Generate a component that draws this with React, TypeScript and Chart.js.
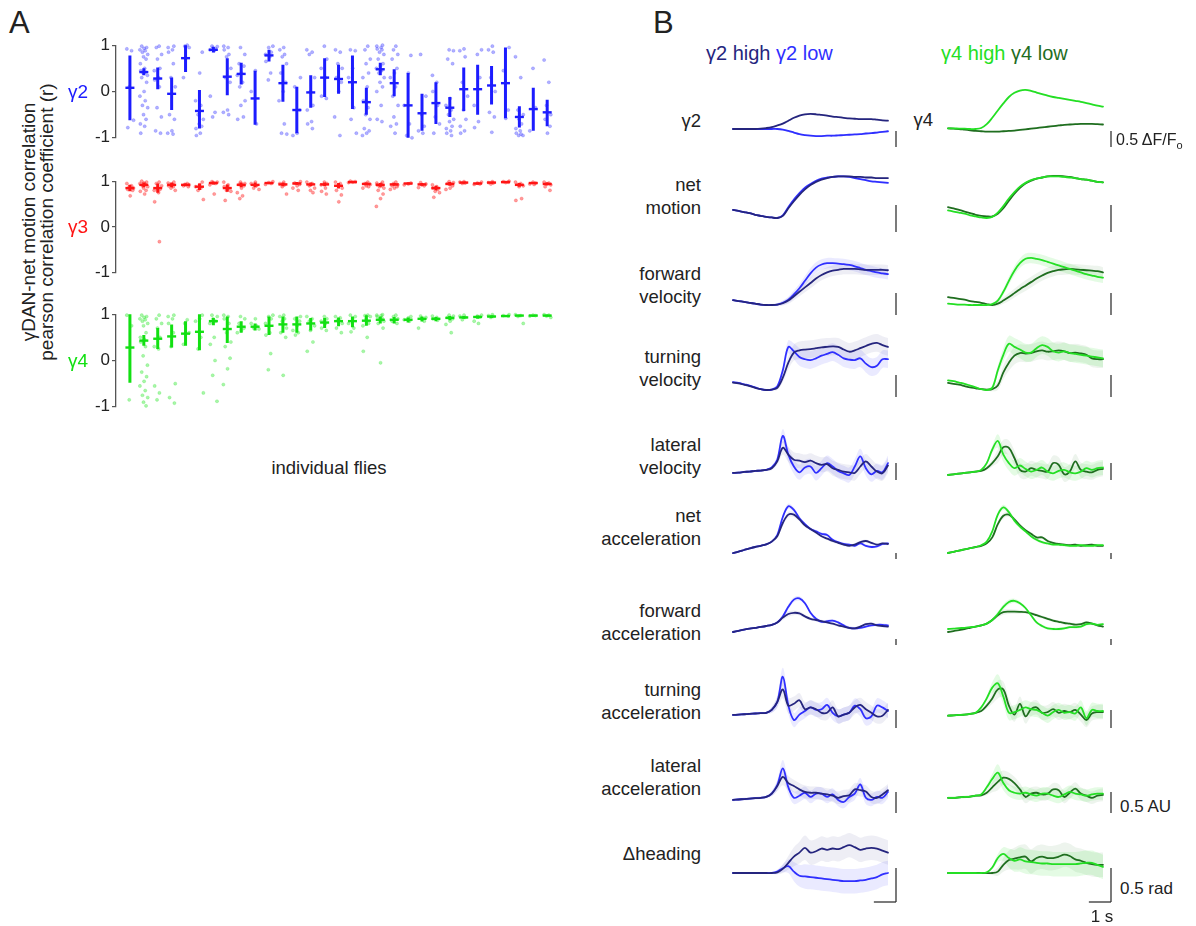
import React, { useEffect, useRef } from "react";
import { Chart, registerables } from "chart.js";

Chart.register(...registerables);

const FONT = '"Liberation Sans", Arial, Helvetica, sans-serif';

// ---------------- Panel A data (per-fly correlation coefficients) ----------------
const flyIds = [1, 2, 3, 4, 5, 6, 7, 8, 9, 10, 11, 12, 13, 14, 15, 16, 17, 18, 19, 20, 21, 22, 23, 24, 25, 26, 27, 28, 29, 30, 31];
const yTicksA = [-1, 0, 1];

const g2Points = [
  [0.92, 0.88, 0.1, -0.62, -0.78],
  [0.98, 0.95, 0.93, 0.9, 0.88, 0.85, 0.8, 0.75, 0.7, 0.6, 0.5, 0.45, 0.42, 0.4, 0.35, 0.3, 0.2, 0.0, -0.1, -0.2, -0.3, -0.35, -0.5, -0.6, -0.7, -0.75, -0.9],
  [0.98, 0.95, 0.8, 0.7, 0.5, 0.45, 0.3, 0.25, 0.1, -0.35, -0.55, -0.85, -0.9],
  [0.98, 0.95, 0.9, 0.85, 0.6, 0.3, 0.1, -0.5, -0.6, -0.85, -0.9, -0.92],
  [1.0, 0.98, 0.95, 0.3],
  [0.85, 0.4, -0.2, -0.3, -0.5, -0.6, -0.7, -0.75, -0.8, -0.9, -0.95],
  [0.98, 0.97, 0.95, 0.92, 0.9, 0.88, -0.1, -0.45, -0.55],
  [0.98, 0.95, 0.9, 0.8, 0.75, 0.5, 0.3, 0.2, -0.4, -0.45, -0.5],
  [0.95, 0.8, 0.6, 0.55, 0.4, 0.35, 0.2, 0.1, -0.2, -0.3, -0.55, -0.6],
  [0.45, 0.0, -0.7],
  [0.98, 0.95, 0.85, 0.8, 0.75, 0.65, 0.4, 0.25],
  [0.95, 0.9, 0.8, 0.75, 0.6, 0.4, 0.2, 0.0, -0.2, -0.7, -0.9, -0.92],
  [0.3, 0.1, -0.4, -0.9, -0.95],
  [0.9, 0.85, 0.8, 0.3, 0.0, -0.3, -0.4, -0.65, -0.7, -0.8],
  [0.98, 0.7, 0.5, 0.3, -0.1, -0.15],
  [0.9, 0.85, 0.6, 0.5, 0.3, 0.2, 0.0, -0.55, -0.95],
  [0.9, 0.88, 0.5, 0.3, -0.35, -0.6, -0.9],
  [0.98, 0.9, 0.7, 0.6, 0.4, 0.3, 0.1, -0.2, -0.35, -0.5, -0.6, -0.8, -0.85, -0.9, -0.95],
  [1.0, 0.98, 0.95, 0.92, 0.9, 0.85, 0.8, 0.7, 0.6, 0.55, 0.5, 0.45, 0.4, 0.3, 0.2, 0.1, 0.0, -0.3, -0.6, -0.65],
  [0.98, 0.9, 0.8, 0.7, 0.5, 0.4, 0.3, 0.1, -0.1, -0.3, -0.55, -0.7, -0.75, -0.9],
  [0.78, 0.4, -0.3, -0.7, -0.95, -1.0],
  [0.8, -0.1, -0.5, -0.75, -0.85, -0.9],
  [0.35, 0.2, 0.0, -0.3, -0.55, -0.7, -0.9],
  [0.9, 0.88, 0.7, 0.6, -0.15, -0.3, -0.4, -0.5, -0.6, -0.65, -0.75, -0.8, -0.85, -0.9, -0.95],
  [0.92, 0.88, 0.75, 0.2, -0.1, -0.4, -0.6, -0.75, -0.85, -0.9],
  [0.9, 0.8, 0.3, -0.3, -0.65, -0.78],
  [0.98, 0.9, 0.85, 0.3, 0.0, -0.45, -0.55, -0.88],
  [0.95, 0.45, -0.4, -0.58],
  [0.75, 0.3, -0.4, -0.5, -0.6, -0.7, -0.8, -0.85, -0.9, -0.92, -0.95, -0.95],
  [0.5, -0.35, -0.85],
  [0.68, 0.2, -0.3, -0.5, -0.6, -0.75, -0.9],
];
const g2Mean = [0.08, 0.42, 0.28, -0.05, 0.72, -0.42, 0.9, 0.32, 0.38, -0.15, 0.78, 0.18, -0.4, -0.02, 0.3, 0.27, 0.2, -0.23, 0.48, 0.18, -0.3, -0.47, -0.25, -0.35, 0.05, 0.05, 0.13, 0.18, -0.55, -0.38, -0.45];
const g2Hi = [0.78, 0.5, 0.52, 0.3, 1.0, 0.03, 0.96, 0.72, 0.62, 0.45, 0.9, 0.58, 0.1, 0.35, 0.72, 0.58, 0.78, 0.08, 0.62, 0.48, 0.4, -0.05, 0.2, -0.12, 0.52, 0.58, 0.55, 0.95, -0.32, 0.08, -0.18];
const g2Lo = [-0.62, 0.35, 0.05, -0.4, 0.42, -0.8, 0.84, -0.08, 0.15, -0.72, 0.65, -0.22, -0.9, -0.35, -0.12, -0.05, -0.38, -0.5, 0.35, -0.1, -1.0, -0.85, -0.7, -0.55, -0.42, -0.5, -0.28, -0.58, -0.78, -0.85, -0.75];

const g3Points = [
  [0.95, 0.9, 0.88, 0.85, 0.82, 0.8, 0.68],
  [1.0, 0.98, 0.96, 0.95, 0.93, 0.9, 0.88, 0.85, 0.8, 0.78, 0.72],
  [0.98, 0.95, 0.9, 0.85, 0.82, 0.8, 0.75, 0.55, -0.32],
  [0.98, 0.96, 0.93, 0.9, 0.88, 0.85, 0.8],
  [0.95, 0.93, 0.92, 0.9, 0.88],
  [0.98, 0.92, 0.88, 0.85, 0.8, 0.6],
  [0.99, 0.98, 0.97, 0.95, 0.92, 0.72],
  [0.98, 0.92, 0.88, 0.85, 0.8, 0.78, 0.58],
  [0.98, 0.95, 0.93, 0.9, 0.85, 0.75, 0.68, 0.62],
  [0.98, 0.95, 0.9, 0.85, 0.82],
  [0.99, 0.97, 0.95, 0.93],
  [0.98, 0.95, 0.92, 0.88, 0.72],
  [0.99, 0.96, 0.93, 0.9, 0.85, 0.8],
  [0.98, 0.95, 0.9, 0.85, 0.8, 0.75],
  [0.98, 0.95, 0.92, 0.85, 0.78, 0.72],
  [0.98, 0.95, 0.9, 0.85, 0.8, 0.7, 0.55],
  [1.0, 0.99, 0.98, 0.97],
  [0.98, 0.95, 0.93, 0.9, 0.88, 0.85],
  [0.98, 0.96, 0.94, 0.92, 0.9, 0.88, 0.85, 0.8, 0.72, 0.62, 0.45],
  [0.98, 0.95, 0.92, 0.9, 0.88, 0.85, 0.82],
  [0.96, 0.94, 0.92],
  [0.97, 0.94, 0.92, 0.9, 0.86],
  [0.92, 0.88, 0.85, 0.82, 0.78, 0.75, 0.65],
  [0.99, 0.97, 0.95, 0.9, 0.85, 0.82],
  [0.99, 0.98, 0.96, 0.95],
  [0.98, 0.96, 0.94, 0.93],
  [0.99, 0.97, 0.96, 0.94],
  [1.0, 0.99, 0.98, 0.97],
  [0.98, 0.95, 0.93, 0.9, 0.88, 0.62, 0.58],
  [0.98, 0.96, 0.94, 0.93],
  [0.98, 0.96, 0.94, 0.92, 0.88, 0.8],
];
const g3Mean = [0.85, 0.92, 0.85, 0.92, 0.92, 0.88, 0.96, 0.85, 0.92, 0.92, 0.96, 0.93, 0.95, 0.93, 0.93, 0.9, 0.98, 0.94, 0.92, 0.93, 0.95, 0.93, 0.85, 0.94, 0.97, 0.95, 0.97, 0.98, 0.92, 0.96, 0.94];
const g3Hi = [0.92, 0.97, 0.95, 0.97, 0.95, 0.95, 0.99, 0.93, 0.97, 0.97, 0.98, 0.97, 0.98, 0.97, 0.97, 0.96, 0.99, 0.97, 0.96, 0.96, 0.97, 0.96, 0.9, 0.98, 0.99, 0.97, 0.99, 0.99, 0.96, 0.98, 0.97];
const g3Lo = [0.78, 0.87, 0.75, 0.87, 0.89, 0.81, 0.93, 0.77, 0.87, 0.87, 0.94, 0.89, 0.92, 0.89, 0.89, 0.84, 0.97, 0.91, 0.88, 0.9, 0.93, 0.9, 0.8, 0.9, 0.95, 0.93, 0.95, 0.97, 0.88, 0.94, 0.91];

const g4Points = [
  [0.98, 0.75, -0.85],
  [0.98, 0.95, 0.93, 0.9, 0.88, 0.85, 0.8, 0.75, 0.6, 0.5, 0.45, 0.4, 0.3, 0.1, -0.1, -0.25, -0.35, -0.45, -0.55, -0.65, -0.75, -0.8, -0.9, -0.98],
  [0.98, 0.9, 0.8, 0.7, 0.5, 0.3, 0.25, -0.55, -0.7, -0.85],
  [0.98, 0.95, 0.9, 0.8, 0.6, 0.3, -0.5, -0.8, -0.92],
  [0.88, 0.8, 0.6, 0.35],
  [0.98, 0.9, 0.85, 0.5, 0.25, -0.7],
  [0.98, 0.95, 0.9, 0.85, 0.8, 0.5, 0.35, 0.0, -0.32, -0.88],
  [0.98, 0.95, 0.9, 0.8, 0.6, 0.4, 0.3, 0.05, -0.18, -0.52],
  [0.95, 0.9, 0.8, 0.7, 0.65, 0.6],
  [0.9, 0.8, 0.75, 0.7, 0.68],
  [0.98, 0.95, 0.9, 0.8, 0.6, 0.55, 0.15, -0.2],
  [0.98, 0.95, 0.9, 0.85, 0.7, 0.6, 0.5, -0.32],
  [0.95, 0.9, 0.85, 0.75, 0.65, 0.6, 0.55],
  [0.95, 0.9, 0.85, 0.75, 0.65, 0.4, 0.2],
  [0.95, 0.9, 0.85, 0.8, 0.7, 0.65],
  [0.95, 0.92, 0.88, 0.8, 0.7, 0.6],
  [0.98, 0.95, 0.9, 0.8, 0.7, 0.62],
  [0.98, 0.97, 0.95, 0.9, 0.8, 0.75, 0.5, 0.2],
  [0.99, 0.98, 0.97, 0.95, 0.92, 0.9, 0.85, 0.8, 0.7, -0.05],
  [0.98, 0.95, 0.9, 0.85, 0.8],
  [0.95, 0.92, 0.88, 0.85],
  [0.96, 0.93, 0.9, 0.85, 0.7],
  [0.96, 0.93, 0.9, 0.87],
  [0.98, 0.96, 0.93, 0.9, 0.85, 0.78, 0.6],
  [0.98, 0.96, 0.93, 0.88],
  [0.98, 0.96, 0.94, 0.85, 0.8],
  [0.99, 0.97, 0.95, 0.93],
  [0.99, 0.97, 0.96],
  [0.99, 0.97, 0.95, 0.8],
  [0.98, 0.97, 0.96],
  [0.99, 0.98, 0.96, 0.93],
];
const g4Mean = [0.28, 0.43, 0.47, 0.52, 0.58, 0.62, 0.85, 0.68, 0.73, 0.73, 0.75, 0.78, 0.78, 0.8, 0.82, 0.85, 0.85, 0.86, 0.88, 0.88, 0.88, 0.9, 0.9, 0.92, 0.93, 0.94, 0.95, 0.96, 0.97, 0.97, 0.97];
const g4Hi = [1.0, 0.55, 0.7, 0.78, 0.85, 1.0, 0.92, 0.95, 0.85, 0.8, 0.95, 0.95, 0.95, 0.92, 0.92, 0.93, 0.95, 0.98, 0.95, 0.94, 0.93, 0.95, 0.94, 0.96, 0.96, 0.97, 0.97, 0.98, 0.99, 0.98, 0.99];
const g4Lo = [-0.48, 0.32, 0.25, 0.28, 0.32, 0.22, 0.76, 0.38, 0.6, 0.65, 0.55, 0.6, 0.6, 0.65, 0.7, 0.74, 0.72, 0.75, 0.8, 0.8, 0.82, 0.84, 0.85, 0.87, 0.9, 0.9, 0.92, 0.94, 0.95, 0.95, 0.95];

// ---------------- Panel B data (traces, 0 .. 7 s) ----------------
const timeSec = [0, 0.25, 0.5, 0.75, 1, 1.25, 1.5, 1.75, 2, 2.25, 2.5, 2.75, 3, 3.25, 3.5, 3.75, 4, 4.25, 4.5, 4.75, 5, 5.25, 5.5, 5.75, 6, 6.25, 6.5, 6.75, 7];

const dff_g2High = [0, 0, 0, 0, 0, 0.01, 0.03, 0.06, 0.11, 0.17, 0.26, 0.35, 0.42, 0.46, 0.47, 0.46, 0.44, 0.42, 0.39, 0.37, 0.35, 0.33, 0.32, 0.31, 0.31, 0.31, 0.29, 0.27, 0.26];
const dff_g2Low = [0, 0, 0, 0, 0, 0, 0, 0, 0, -0.02, -0.06, -0.11, -0.16, -0.19, -0.21, -0.22, -0.22, -0.21, -0.21, -0.2, -0.19, -0.18, -0.17, -0.16, -0.14, -0.13, -0.11, -0.09, -0.07];
const dff_g4High = [0.02, 0.02, 0.01, 0.01, 0, 0, 0.03, 0.15, 0.35, 0.58, 0.8, 1.0, 1.13, 1.2, 1.22, 1.19, 1.14, 1.09, 1.04, 1.0, 0.97, 0.94, 0.91, 0.88, 0.85, 0.81, 0.77, 0.73, 0.7];
const dff_g4Low = [0.02, 0.01, 0, -0.02, -0.04, -0.06, -0.07, -0.08, -0.08, -0.08, -0.07, -0.06, -0.05, -0.03, -0.01, 0.01, 0.03, 0.05, 0.07, 0.09, 0.11, 0.13, 0.14, 0.15, 0.16, 0.16, 0.16, 0.15, 0.14];

const netMotion_g2High = [0.15, 0.13, 0.11, 0.09, 0.06, 0.04, 0.02, 0.01, 0, 0.04, 0.18, 0.31, 0.43, 0.53, 0.61, 0.67, 0.71, 0.74, 0.76, 0.77, 0.77, 0.77, 0.76, 0.76, 0.75, 0.75, 0.74, 0.74, 0.74];
const netMotion_g2Low = [0.15, 0.13, 0.11, 0.09, 0.06, 0.04, 0.02, 0.01, 0, 0.05, 0.2, 0.34, 0.46, 0.56, 0.63, 0.69, 0.73, 0.75, 0.76, 0.77, 0.77, 0.76, 0.74, 0.72, 0.7, 0.68, 0.67, 0.66, 0.65];
const netMotion_g4High = [0.14, 0.12, 0.1, 0.08, 0.05, 0.03, 0.01, 0, 0.02, 0.1, 0.22, 0.36, 0.48, 0.58, 0.65, 0.7, 0.73, 0.75, 0.77, 0.77, 0.77, 0.76, 0.75, 0.74, 0.72, 0.71, 0.69, 0.67, 0.66];
const netMotion_g4Low = [0.2, 0.18, 0.15, 0.12, 0.09, 0.06, 0.04, 0.03, 0.03, 0.08, 0.18, 0.32, 0.45, 0.56, 0.64, 0.69, 0.73, 0.75, 0.77, 0.78, 0.78, 0.77, 0.76, 0.74, 0.72, 0.71, 0.69, 0.67, 0.66];

const fwdVel_g2High = [0.11, 0.09, 0.07, 0.05, 0.03, 0.01, 0, 0, 0.01, 0.04, 0.1, 0.2, 0.3, 0.4, 0.5, 0.6, 0.68, 0.74, 0.78, 0.8, 0.82, 0.82, 0.82, 0.81, 0.8, 0.8, 0.8, 0.8, 0.79];
const fwdVel_g2Low = [0.11, 0.09, 0.07, 0.05, 0.03, 0.01, 0, 0, 0.01, 0.05, 0.12, 0.24, 0.38, 0.55, 0.72, 0.85, 0.92, 0.95, 0.95, 0.94, 0.93, 0.91, 0.88, 0.84, 0.8, 0.77, 0.74, 0.72, 0.7];
const fwdVel_g4High = [0.03, 0.02, 0.01, 0.01, 0, 0, 0, 0, 0.02, 0.1, 0.3, 0.55, 0.78, 0.95, 1.05, 1.07, 1.05, 1.02, 0.98, 0.94, 0.9, 0.86, 0.82, 0.78, 0.74, 0.7, 0.67, 0.64, 0.62];
const fwdVel_g4Low = [0.18, 0.16, 0.14, 0.12, 0.09, 0.07, 0.05, 0.02, 0, 0.03, 0.1, 0.18, 0.27, 0.36, 0.44, 0.52, 0.6, 0.67, 0.73, 0.77, 0.8, 0.81, 0.82, 0.81, 0.8, 0.79, 0.78, 0.77, 0.74];

const turnVel_g2High = [0.17, 0.15, 0.12, 0.09, 0.05, 0.02, 0, 0.01, 0.05, 0.28, 0.62, 0.85, 0.9, 0.92, 0.93, 0.95, 0.97, 0.98, 0.99, 0.98, 0.92, 0.87, 0.9, 0.95, 1.0, 1.05, 1.07, 1.02, 0.98];
const turnVel_g2Low = [0.18, 0.16, 0.13, 0.1, 0.06, 0.02, 0, 0.01, 0.08, 0.45, 0.98, 0.88, 0.75, 0.7, 0.68, 0.72, 0.78, 0.82, 0.86, 0.8, 0.72, 0.69, 0.68, 0.72, 0.6, 0.52, 0.55, 0.7, 0.7];
const turnVel_g4High = [0.22, 0.2, 0.17, 0.14, 0.1, 0.06, 0.02, 0, 0.05, 0.45, 0.8, 1.05, 0.98, 0.92, 0.85, 0.85, 0.95, 1.02, 0.98, 0.88, 0.85, 0.88, 0.84, 0.82, 0.8, 0.78, 0.76, 0.74, 0.72];
const turnVel_g4Low = [0.16, 0.14, 0.12, 0.09, 0.06, 0.04, 0.02, 0.01, 0.02, 0.1, 0.4, 0.62, 0.78, 0.84, 0.83, 0.84, 0.88, 0.9, 0.87, 0.88, 0.9, 0.88, 0.84, 0.85, 0.83, 0.8, 0.72, 0.7, 0.7];

const latVel_g2High = [0.06, 0.07, 0.09, 0.1, 0.12, 0.13, 0.15, 0.2, 0.4, 0.8, 0.6, 0.45, 0.42, 0.38, 0.42, 0.35, 0.3, 0.32, 0.2, 0.15, 0.1, 0.08, 0.06, 0.25, 0.4, 0.25, 0.1, 0.05, 0.28];
const latVel_g2Low = [0.06, 0.07, 0.09, 0.1, 0.12, 0.13, 0.15, 0.22, 0.45, 1.15, 0.6, 0.25, 0.08, 0.22, 0.25, 0.06, 0.2, 0.35, 0.25, 0.12, 0.05, 0, 0.25, 0.55, 0.2, 0.02, 0.12, 0.08, 0.35];
const latVel_g4High = [0, 0.02, 0.04, 0.06, 0.08, 0.1, 0.15, 0.35, 0.75, 1.0, 0.6, 0.35, 0.2, 0.28, 0.18, 0.1, 0.15, 0.22, 0.1, 0.05, 0.12, 0.15, 0.08, 0.05, 0.1, 0.2, 0.15, 0.2, 0.22];
const latVel_g4Low = [0, 0.02, 0.04, 0.06, 0.08, 0.1, 0.12, 0.2, 0.35, 0.55, 0.82, 0.8, 0.5, 0.15, 0.1, 0.2, 0.15, 0.12, 0.1, 0.35, 0.3, 0.02, 0.1, 0.4, 0.15, 0.1, 0.08, 0.15, 0.18];

const netAcc_g2High = [0, 0.12, 0.25, 0.38, 0.5, 0.6, 0.72, 0.95, 1.4, 2.5, 3.2, 3.2, 2.8, 2.3, 2.0, 1.7, 1.4, 1.2, 1.0, 0.85, 0.7, 0.6, 0.7, 0.9, 1.0, 0.85, 0.7, 0.8, 0.75];
const netAcc_g2Low = [0, 0.12, 0.25, 0.38, 0.5, 0.6, 0.72, 0.95, 1.5, 3.0, 3.9, 3.6, 2.9, 2.4, 2.0, 1.8, 1.6, 1.5, 1.1, 0.9, 0.75, 0.7, 0.6, 0.8, 0.6, 0.5, 0.55, 0.75, 0.8];
const netAcc_g4High = [0, 0.1, 0.2, 0.3, 0.4, 0.5, 0.65, 0.95, 1.8, 3.2, 3.8, 3.4, 2.7, 2.2, 1.8, 1.4, 1.1, 0.9, 0.8, 0.7, 0.7, 0.65, 0.6, 0.6, 0.65, 0.6, 0.6, 0.65, 0.65];
const netAcc_g4Low = [0, 0.1, 0.2, 0.3, 0.4, 0.5, 0.6, 0.8, 1.3, 2.4, 3.1, 3.2, 2.8, 2.3, 1.9, 1.6, 1.3, 1.3, 1.0, 0.85, 0.75, 0.7, 0.65, 0.7, 0.6, 0.65, 0.7, 0.6, 0.6];

const fwdAcc_g2High = [0, 0.1, 0.2, 0.28, 0.35, 0.42, 0.5, 0.6, 0.8, 1.2, 1.5, 1.6, 1.55, 1.3, 1.1, 1.0, 0.9, 0.8, 0.7, 0.55, 0.45, 0.35, 0.3, 0.45, 0.65, 0.7, 0.55, 0.5, 0.45];
const fwdAcc_g2Low = [0, 0.1, 0.2, 0.28, 0.35, 0.42, 0.5, 0.6, 0.8, 1.3, 2.1, 2.7, 2.8, 2.4, 1.6, 1.1, 0.85, 0.9, 0.95, 0.8, 0.55, 0.35, 0.3, 0.35, 0.45, 0.55, 0.6, 0.6, 0.55];
const fwdAcc_g4High = [0.25, 0.28, 0.32, 0.35, 0.4, 0.45, 0.55, 0.7, 1.0, 1.5, 2.1, 2.5, 2.6, 2.4, 2.0, 1.4, 0.8, 0.5, 0.3, 0.25, 0.25, 0.3, 0.4, 0.4, 0.45, 0.65, 0.7, 0.6, 0.65];
const fwdAcc_g4Low = [0, 0.08, 0.16, 0.25, 0.35, 0.45, 0.55, 0.7, 1.0, 1.4, 1.65, 1.7, 1.7, 1.68, 1.65, 1.55, 1.4, 1.25, 1.1, 0.95, 0.85, 0.75, 0.7, 0.62, 0.65, 0.8, 0.7, 0.55, 0.45];

const turnAcc_g2High = [0.14, 0.15, 0.16, 0.17, 0.18, 0.19, 0.2, 0.28, 0.5, 0.85, 0.4, 0.45, 0.55, 0.3, 0.35, 0.3, 0.2, 0.2, 0.35, 0.1, 0.15, 0.2, 0.35, 0.42, 0.3, 0.2, 0.1, 0.12, 0.28];
const turnAcc_g2Low = [0.14, 0.15, 0.16, 0.17, 0.18, 0.19, 0.2, 0.28, 0.5, 1.2, 0.4, 0, 0.15, 0.25, 0.35, 0.28, 0.3, 0.42, 0.2, 0.1, 0.15, 0.2, 0.4, 0.3, 0.05, 0.1, 0.4, 0.35, 0.25];
const turnAcc_g4High = [0.12, 0.13, 0.14, 0.15, 0.17, 0.2, 0.35, 0.6, 0.9, 1.02, 0.65, 0.2, 0.22, 0.28, 0.35, 0.3, 0.28, 0.2, 0.12, 0.22, 0.28, 0.2, 0.22, 0.18, 0.35, 0.05, 0.28, 0.25, 0.25];
const turnAcc_g4Low = [0.12, 0.13, 0.14, 0.15, 0.17, 0.2, 0.25, 0.4, 0.6, 0.85, 0.85, 0.4, 0.15, 0.45, 0.1, 0.3, 0.35, 0.2, 0.22, 0.3, 0.2, 0.25, 0.22, 0.28, 0.15, 0, 0.18, 0.22, 0.22];

const latAcc_g2High = [0.05, 0.06, 0.07, 0.08, 0.09, 0.1, 0.12, 0.2, 0.38, 0.6, 0.45, 0.38, 0.3, 0.24, 0.22, 0.22, 0.2, 0.18, 0.15, 0.1, 0.14, 0.16, 0.3, 0.28, 0.25, 0.12, 0.1, 0.18, 0.28];
const latAcc_g2Low = [0.05, 0.06, 0.07, 0.08, 0.09, 0.1, 0.12, 0.2, 0.4, 0.8, 0.35, 0.1, 0.15, 0.22, 0.12, 0.2, 0.2, 0.12, 0.18, 0.05, 0, 0.12, 0.2, 0.42, 0.1, 0.05, 0.12, 0.1, 0.24];
const latAcc_g4High = [0.1, 0.1, 0.11, 0.12, 0.13, 0.15, 0.18, 0.35, 0.55, 0.7, 0.45, 0.28, 0.22, 0.2, 0.22, 0.18, 0.15, 0.2, 0.2, 0.15, 0.12, 0.18, 0.24, 0.2, 0.18, 0.15, 0.18, 0.2, 0.2];
const latAcc_g4Low = [0.1, 0.1, 0.11, 0.12, 0.13, 0.15, 0.16, 0.22, 0.35, 0.48, 0.58, 0.55, 0.45, 0.3, 0.12, 0.2, 0.22, 0.18, 0.2, 0.3, 0.28, 0.12, 0.22, 0.32, 0.2, 0.15, 0.1, 0.15, 0.17];

const heading_g2High = [0, 0, 0, 0, 0, 0, 0, 0, 0.01, 0.06, 0.15, 0.24, 0.3, 0.37, 0.3, 0.32, 0.36, 0.34, 0.36, 0.35, 0.38, 0.41, 0.38, 0.34, 0.36, 0.37, 0.36, 0.33, 0.3];
const heading_g2Low = [0, 0, 0, 0, 0, 0, 0, 0, 0.02, 0.07, 0.1, 0.02, -0.04, -0.05, -0.06, -0.07, -0.08, -0.09, -0.1, -0.11, -0.12, -0.12, -0.12, -0.11, -0.1, -0.08, -0.06, -0.02, 0];
const heading_g4High = [0, 0, 0, 0, 0, 0, 0, 0.01, 0.08, 0.22, 0.28, 0.22, 0.18, 0.2, 0.17, 0.16, 0.15, 0.14, 0.14, 0.13, 0.13, 0.13, 0.13, 0.13, 0.14, 0.15, 0.15, 0.12, 0.09];
const heading_g4Low = [0, 0, 0, 0, 0, 0, 0, 0, 0, 0.02, 0.12, 0.19, 0.21, 0.23, 0.24, 0.17, 0.22, 0.24, 0.22, 0.22, 0.24, 0.27, 0.25, 0.2, 0.18, 0.15, 0.13, 0.12, 0.12];

// SEM per row
const sem_dff = [0.01, 0.01, 0.01, 0.01, 0.01, 0.01, 0.01, 0.02, 0.02, 0.03, 0.03, 0.03, 0.03, 0.03, 0.03, 0.03, 0.03, 0.03, 0.03, 0.03, 0.03, 0.03, 0.03, 0.03, 0.03, 0.03, 0.03, 0.03, 0.03];
const sem_netMotion = [0.01, 0.01, 0.01, 0.01, 0.01, 0.01, 0.01, 0.01, 0.01, 0.02, 0.02, 0.02, 0.02, 0.02, 0.02, 0.02, 0.02, 0.02, 0.02, 0.02, 0.02, 0.02, 0.02, 0.02, 0.02, 0.02, 0.02, 0.02, 0.02];
const sem_fwdVel = [0.02, 0.02, 0.02, 0.02, 0.02, 0.02, 0.02, 0.02, 0.03, 0.05, 0.07, 0.09, 0.1, 0.11, 0.12, 0.12, 0.12, 0.12, 0.12, 0.12, 0.12, 0.12, 0.12, 0.12, 0.12, 0.12, 0.12, 0.12, 0.12];
const sem_turnVel = [0.02, 0.02, 0.02, 0.02, 0.02, 0.02, 0.02, 0.02, 0.05, 0.1, 0.15, 0.18, 0.2, 0.2, 0.2, 0.2, 0.2, 0.2, 0.2, 0.2, 0.2, 0.2, 0.2, 0.2, 0.2, 0.2, 0.2, 0.2, 0.2];
const sem_latVel = [0.03, 0.03, 0.03, 0.03, 0.03, 0.03, 0.03, 0.06, 0.1, 0.2, 0.22, 0.22, 0.22, 0.22, 0.22, 0.22, 0.22, 0.22, 0.22, 0.22, 0.22, 0.22, 0.22, 0.22, 0.22, 0.22, 0.22, 0.22, 0.22];
const sem_netAcc = [0.05, 0.05, 0.05, 0.05, 0.05, 0.05, 0.05, 0.08, 0.12, 0.2, 0.22, 0.2, 0.18, 0.15, 0.12, 0.12, 0.12, 0.12, 0.12, 0.12, 0.12, 0.12, 0.12, 0.12, 0.12, 0.12, 0.12, 0.12, 0.12];
const sem_fwdAcc = [0.05, 0.05, 0.05, 0.05, 0.05, 0.05, 0.05, 0.08, 0.12, 0.2, 0.22, 0.2, 0.18, 0.15, 0.12, 0.12, 0.12, 0.12, 0.12, 0.12, 0.12, 0.12, 0.12, 0.12, 0.12, 0.12, 0.12, 0.12, 0.12];
const sem_turnAcc = [0.03, 0.03, 0.03, 0.03, 0.03, 0.03, 0.03, 0.08, 0.15, 0.25, 0.22, 0.2, 0.2, 0.2, 0.2, 0.2, 0.2, 0.2, 0.2, 0.2, 0.2, 0.2, 0.2, 0.2, 0.2, 0.2, 0.2, 0.2, 0.2];
const sem_latAcc = [0.03, 0.03, 0.03, 0.03, 0.03, 0.03, 0.03, 0.06, 0.12, 0.2, 0.17, 0.15, 0.15, 0.15, 0.15, 0.15, 0.15, 0.15, 0.15, 0.15, 0.15, 0.15, 0.15, 0.15, 0.15, 0.15, 0.15, 0.15, 0.15];
const sem_heading = [0.01, 0.01, 0.01, 0.01, 0.01, 0.01, 0.01, 0.01, 0.03, 0.06, 0.1, 0.14, 0.16, 0.18, 0.18, 0.18, 0.18, 0.18, 0.18, 0.18, 0.18, 0.18, 0.18, 0.18, 0.18, 0.18, 0.18, 0.18, 0.18];

const rowLabels = [
  ["γ2"],
  ["net", "motion"],
  ["forward", "velocity"],
  ["turning", "velocity"],
  ["lateral", "velocity"],
  ["net", "acceleration"],
  ["forward", "acceleration"],
  ["turning", "acceleration"],
  ["lateral", "acceleration"],
  ["Δheading"],
];

// tables built from the arrays above
const leftTraces = [
  [dff_g2High, dff_g2Low], [netMotion_g2High, netMotion_g2Low], [fwdVel_g2High, fwdVel_g2Low],
  [turnVel_g2High, turnVel_g2Low], [latVel_g2High, latVel_g2Low], [netAcc_g2High, netAcc_g2Low],
  [fwdAcc_g2High, fwdAcc_g2Low], [turnAcc_g2High, turnAcc_g2Low], [latAcc_g2High, latAcc_g2Low],
  [heading_g2High, heading_g2Low],
];
const rightTraces = [
  [dff_g4High, dff_g4Low], [netMotion_g4High, netMotion_g4Low], [fwdVel_g4High, fwdVel_g4Low],
  [turnVel_g4High, turnVel_g4Low], [latVel_g4High, latVel_g4Low], [netAcc_g4High, netAcc_g4Low],
  [fwdAcc_g4High, fwdAcc_g4Low], [turnAcc_g4High, turnAcc_g4Low], [latAcc_g4High, latAcc_g4Low],
  [heading_g4High, heading_g4Low],
];
const rowSem = [sem_dff, sem_netMotion, sem_fwdVel, sem_turnVel, sem_latVel, sem_netAcc, sem_fwdAcc, sem_turnAcc, sem_latAcc, sem_heading];

// ---------------- layout & style (not data) ----------------
const ROWS = [
  { top: 78, bottom: 152, base: 129, ppu: 32, barLow: 147, labelY: 120 },
  { top: 160, bottom: 238, base: 218, ppu: 54, barLow: 232, labelY: 196 },
  { top: 248, bottom: 320, base: 305, ppu: 44, barLow: 315, labelY: 285 },
  { top: 328, bottom: 402, base: 390, ppu: 44, barLow: 397, labelY: 368 },
  { top: 420, bottom: 486, base: 475, ppu: 34, barLow: 480, labelY: 456 },
  { top: 495, bottom: 564, base: 553, ppu: 12, barLow: 559, labelY: 527 },
  { top: 585, bottom: 650, base: 632, ppu: 12, barLow: 645, labelY: 622 },
  { top: 660, bottom: 732, base: 720, ppu: 36, barLow: 728, labelY: 701 },
  { top: 752, bottom: 818, base: 802, ppu: 42, barLow: 813, labelY: 777 },
  { top: 822, bottom: 908, base: 873, ppu: 68, barLow: 902, labelY: 853 },
];
const PX_PER_SEC = 22.14;
const COL_X0 = [733, 948];
const CELL_PAD_L = 5;
const CELL_W = 177;
const T_MIN = -CELL_PAD_L / PX_PER_SEC;
const T_MAX = (CELL_W - CELL_PAD_L) / PX_PER_SEC;
const BAR_T = 163 / PX_PER_SEC;

const G2C = { high: "#25257e", low: "#2f2fff", highBand: "rgba(37,37,126,0.08)", lowBand: "rgba(47,47,255,0.10)" };
const G4C = { high: "#24df24", low: "#1f6e1f", highBand: "rgba(36,223,36,0.12)", lowBand: "rgba(31,110,31,0.08)" };
const JITTER = [-0.22, 0.12, -0.05, 0.26, -0.15, 0.2, 0.02, -0.28, 0.1, -0.1, 0.28, -0.02, 0.16, -0.25, 0.06];

const STRIPS = [
  { areaTop: 45, areaBottom: 138, pts: g2Points, mean: g2Mean, lo: g2Lo, hi: g2Hi, color: "#1c1cff", dot: "rgba(50,50,255,0.38)", label: "γ2" },
  { areaTop: 181, areaBottom: 273, pts: g3Points, mean: g3Mean, lo: g3Lo, hi: g3Hi, color: "#ff1414", dot: "rgba(255,20,20,0.42)", label: "γ3" },
  { areaTop: 314, areaBottom: 407, pts: g4Points, mean: g4Mean, lo: g4Lo, hi: g4Hi, color: "#12e012", dot: "rgba(30,230,30,0.38)", label: "γ4" },
];
const STRIP_LEFT = 86;
const STRIP_AXIS_W = 30;
const STRIP_W = 482;
const STRIP_PAD = 12;

function stripConfig(s: any): any {
  const dots: any[] = [];
  s.pts.forEach((vals: number[], i: number) =>
    vals.forEach((v: number, j: number) => dots.push({ x: flyIds[i] + JITTER[(j + i * 4) % JITTER.length], y: v }))
  );
  const bars: any[] = [];
  flyIds.forEach((f, i) => {
    bars.push({ x: f, y: s.lo[i] }, { x: f, y: s.hi[i] }, { x: f, y: null });
  });
  const means = flyIds.map((f, i) => ({ x: f, y: s.mean[i] }));
  return {
    type: "scatter",
    data: {
      datasets: [
        { data: means, pointStyle: "line", pointRadius: 4.5, pointBorderColor: s.color, pointBorderWidth: 2.4, clip: false },
        { data: bars, showLine: true, spanGaps: false, borderColor: s.color, borderWidth: 3, pointRadius: 0, clip: false },
        { data: dots, pointRadius: 1.6, pointBackgroundColor: s.dot, pointBorderColor: s.dot, pointBorderWidth: 0.5, clip: false },
      ],
    },
    options: {
      animation: false,
      responsive: false,
      devicePixelRatio: 1,
      events: [],
      layout: { padding: { top: STRIP_PAD, bottom: STRIP_PAD, left: 0, right: 0 } },
      plugins: { legend: { display: false }, tooltip: { enabled: false } },
      scales: {
        x: { type: "linear", display: false, min: 0, max: 32 },
        y: {
          type: "linear",
          min: -1,
          max: 1,
          afterFit: (sc: any) => { sc.width = STRIP_AXIS_W; },
          afterBuildTicks: (sc: any) => { sc.ticks = yTicksA.map((v) => ({ value: v })); },
          ticks: { color: "#222", font: { family: FONT, size: 17 }, padding: 2, callback: (v: any) => String(v) },
          grid: { drawOnChartArea: false, drawTicks: true, tickLength: 4, color: "#555", lineWidth: 1.2 },
          border: { display: true, color: "#555", width: 1.3 },
        },
      },
    },
  };
}

function series(vals: number[]) {
  return timeSec.map((t, i) => ({ x: t, y: vals[i] }));
}
function band(vals: number[], sem: number[], sign: number) {
  return timeSec.map((t, i) => ({ x: t, y: vals[i] + sign * sem[i] }));
}

function traceConfig(row: number, col: number): any {
  const L = ROWS[row];
  const [hi, lo] = col === 0 ? leftTraces[row] : rightTraces[row];
  const sem = rowSem[row];
  const c = col === 0 ? G2C : G4C;
  const yMin = -(L.bottom - L.base) / L.ppu;
  const yMax = (L.base - L.top) / L.ppu;
  const barLo = (L.base - L.barLow) / L.ppu;
  const ln = { pointRadius: 0, tension: 0.35, borderCapStyle: "round" };
  const bandStyle = { pointRadius: 0, tension: 0.35, borderWidth: 1, borderColor: "rgba(0,0,0,0)" };
  const datasets: any[] = [
    { data: [{ x: BAR_T, y: barLo }, { x: BAR_T, y: barLo + 0.5 }], borderColor: "#333", borderWidth: 1.3, pointRadius: 0, tension: 0 },
  ];
  if (row === ROWS.length - 1) {
    datasets.push({ data: [{ x: BAR_T - 1, y: barLo }, { x: BAR_T, y: barLo }], borderColor: "#333", borderWidth: 1.3, pointRadius: 0, tension: 0 });
  }
  datasets.push(
    { ...ln, data: series(hi), borderColor: c.high, borderWidth: 1.8 },
    { ...ln, data: series(lo), borderColor: c.low, borderWidth: 1.8 },
    { ...bandStyle, data: band(hi, sem, 1), fill: "+1", backgroundColor: c.highBand },
    { ...bandStyle, data: band(hi, sem, -1), fill: false },
    { ...bandStyle, data: band(lo, sem, 1), fill: "+1", backgroundColor: c.lowBand },
    { ...bandStyle, data: band(lo, sem, -1), fill: false }
  );
  return {
    type: "line",
    data: { datasets },
    options: {
      animation: false,
      responsive: false,
      devicePixelRatio: 1,
      events: [],
      layout: { padding: 0 },
      plugins: { legend: { display: false }, tooltip: { enabled: false } },
      scales: {
        x: { type: "linear", display: false, min: T_MIN, max: T_MAX },
        y: { type: "linear", display: false, min: yMin, max: yMax },
      },
    },
  };
}

function ChartCanvas(props: { left: number; top: number; width: number; height: number; make: () => any }) {
  const ref = useRef<HTMLCanvasElement | null>(null);
  useEffect(() => {
    if (!ref.current) return;
    const chart = new Chart(ref.current, props.make());
    return () => chart.destroy();
  }, []);
  return (
    <canvas
      ref={ref}
      width={props.width}
      height={props.height}
      style={{ position: "absolute", left: props.left, top: props.top, width: props.width, height: props.height }}
    />
  );
}

function Txt(props: { x: number; y: number; size?: number; color?: string; align?: string; lh?: number; children: any }) {
  const { x, y, size = 18.5, color = "#222", align = "left", lh } = props;
  const st: any = {
    position: "absolute",
    top: y,
    fontSize: size,
    color,
    whiteSpace: "nowrap",
    lineHeight: lh ? `${lh}px` : 1.15,
    transform: "translateY(-50%)",
    textAlign: align,
  };
  if (align === "right") st.right = 1196 - x;
  else if (align === "center") {
    st.left = x;
    st.transform = "translate(-50%,-50%)";
  } else st.left = x;
  return <div style={st}>{props.children}</div>;
}

export default function App() {
  return (
    <div style={{ position: "fixed", left: 0, top: 0, width: 1196, height: 926, background: "#fff", overflow: "hidden", fontFamily: FONT, color: "#222" }}>
      {/* Panel letters */}
      <div style={{ position: "absolute", left: 9, top: 5, fontSize: 31 }}>A</div>
      <div style={{ position: "absolute", left: 653, top: 5, fontSize: 31 }}>B</div>

      {/* Panel A */}
      <div
        style={{
          position: "absolute", left: 38, top: 222, transform: "translate(-50%,-50%) rotate(-90deg)",
          fontSize: 19, lineHeight: "18px", textAlign: "center", whiteSpace: "nowrap",
        }}
      >
        γDAN-net motion correlation<br />pearson correlation coefficient (r)
      </div>
      {STRIPS.map((s, i) => (
        <React.Fragment key={"s" + i}>
          <ChartCanvas
            left={STRIP_LEFT}
            top={s.areaTop - STRIP_PAD}
            width={STRIP_W}
            height={s.areaBottom - s.areaTop + 2 * STRIP_PAD}
            make={() => stripConfig(s)}
          />
          <Txt x={68} y={(s.areaTop + s.areaBottom) / 2} size={19} color={s.color}>{s.label}</Txt>
        </React.Fragment>
      ))}
      <Txt x={329} y={468} align="center">individual flies</Txt>

      {/* Panel B headers */}
      <Txt x={706} y={53} size={20}>
        <span style={{ color: G2C.high }}>γ2 high</span> <span style={{ color: G2C.low }}>γ2 low</span>
      </Txt>
      <Txt x={941} y={53} size={20}>
        <span style={{ color: G4C.high }}>γ4 high</span> <span style={{ color: G4C.low }}>γ4 low</span>
      </Txt>

      {ROWS.map((r, ri) => (
        <React.Fragment key={"r" + ri}>
          <Txt x={701} y={r.labelY} align="right" lh={23}>
            {rowLabels[ri].map((t, k) => (
              <React.Fragment key={k}>{k > 0 ? <br /> : null}{t}</React.Fragment>
            ))}
          </Txt>
          {COL_X0.map((x0, ci) => (
            <ChartCanvas
              key={"c" + ci}
              left={x0 - CELL_PAD_L}
              top={r.top}
              width={CELL_W}
              height={r.bottom - r.top}
              make={() => traceConfig(ri, ci)}
            />
          ))}
        </React.Fragment>
      ))}
      <Txt x={933} y={120} align="right">γ4</Txt>

      {/* scale-bar labels */}
      <Txt x={1116} y={141} size={16}>0.5 ΔF/F<sub style={{ fontSize: 11 }}>o</sub></Txt>
      <Txt x={1120} y={807} size={17}>0.5 AU</Txt>
      <Txt x={1120} y={889} size={17}>0.5 rad</Txt>
      <Txt x={1102} y={917} size={17} align="center">1 s</Txt>
    </div>
  );
}
